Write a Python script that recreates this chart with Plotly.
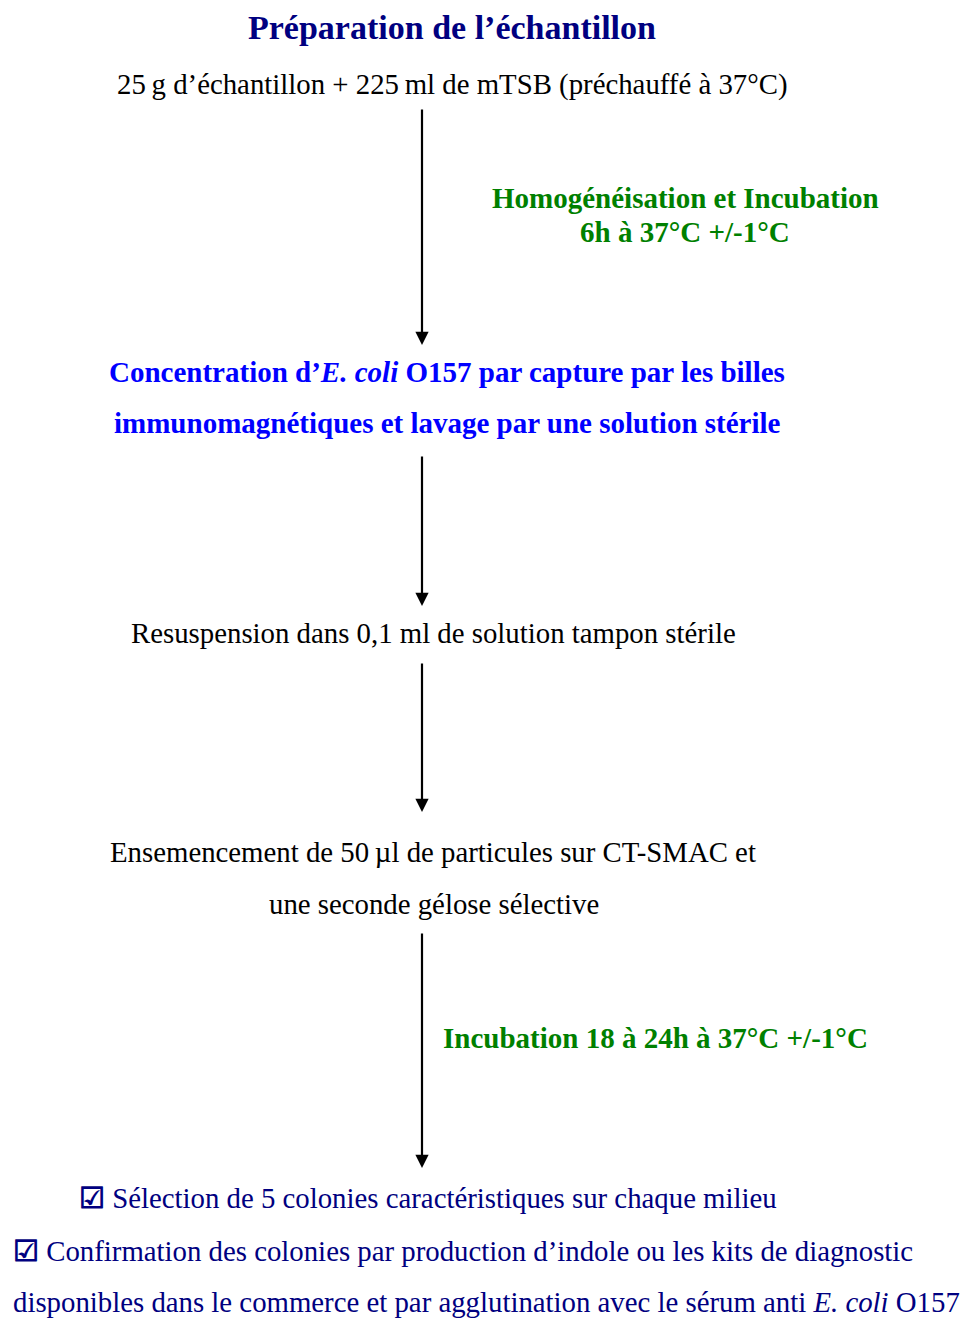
import plotly.graph_objects as go

# flowchart content
title = "Préparation de l’échantillon"
steps = [
    "25\u2009g d’échantillon + 225\u2009ml de mTSB (préchauffé à 37°C)",
    "Concentration d’<i>E. coli</i> O157 par capture par les billes",
    "immunomagnétiques et lavage par une solution stérile",
    "Resuspension dans 0,1 ml de solution tampon stérile",
    "Ensemencement de 50\u2009µl de particules sur CT-SMAC et",
    "une seconde gélose sélective",
]
step_y = [84, 372, 423, 633, 852, 904]
step_x = [452, 447, 447, 433, 433, 434]
step_color = ["black", "#0000FF", "#0000FF", "black", "black", "black"]
step_bold = [False, True, True, False, False, False]

incub_labels = ["Homogénéisation et Incubation", "6h à 37°C +/-1°C",
                "Incubation 18 à 24h à 37°C +/-1°C"]
incub_x = [685, 685, 655]
incub_y = [198, 232, 1038]

final_lines = [
    "<b>\u2611</b> Sélection de 5 colonies caractéristiques sur chaque milieu",
    "<b>\u2611</b> Confirmation des colonies par production d’indole ou les kits de diagnostic",
    "disponibles dans le commerce et par agglutination avec le sérum anti <i>E. coli</i> O157",
]
final_x = [77, 11, 11]
final_y = [1198, 1251, 1302]

# arrows: (start, end) on the y axis, all at x = 422
arrows = [(108, 345), (455, 606), (662, 812), (932, 1168)]

FONT = "Liberation Serif"
fig = go.Figure()

for y0, y1 in arrows:
    fig.add_annotation(x=422, y=y1, ax=422, ay=y0, xref="x", yref="y",
                       axref="x", ayref="y", text="", showarrow=True,
                       arrowhead=2, arrowsize=1.2, arrowwidth=2.2,
                       arrowcolor="black")

fig.add_annotation(x=452, y=27, text="<b>" + title + "</b>", showarrow=False,
                   font=dict(family=FONT, size=34, color="#000080"))

for txt, x, y, c, b in zip(steps, step_x, step_y, step_color, step_bold):
    fig.add_annotation(x=x, y=y, text=("<b>%s</b>" % txt) if b else txt,
                       showarrow=False,
                       font=dict(family=FONT, size=29 if b else 28.8, color=c))

for txt, x, y in zip(incub_labels, incub_x, incub_y):
    fig.add_annotation(x=x, y=y, text="<b>" + txt + "</b>", showarrow=False,
                       font=dict(family=FONT, size=29, color="#008000"))

for txt, x, y in zip(final_lines, final_x, final_y):
    fig.add_annotation(x=x, y=y, text=txt, showarrow=False, xanchor="left",
                       font=dict(family=FONT, size=28.8, color="#000080"))

fig.update_xaxes(range=[0, 966], visible=False, fixedrange=True)
fig.update_yaxes(range=[1318, 0], visible=False, fixedrange=True)
fig.update_layout(width=966, height=1318, margin=dict(l=0, r=0, t=0, b=0),
                  plot_bgcolor="white", paper_bgcolor="white",
                  showlegend=False)

# drop the default 8px body margin so the figure fills the window
fig.write_html("out.html", config={"displayModeBar": False},
               post_script="document.body.style.margin='0';"
               "document.body.style.overflow='hidden';")
